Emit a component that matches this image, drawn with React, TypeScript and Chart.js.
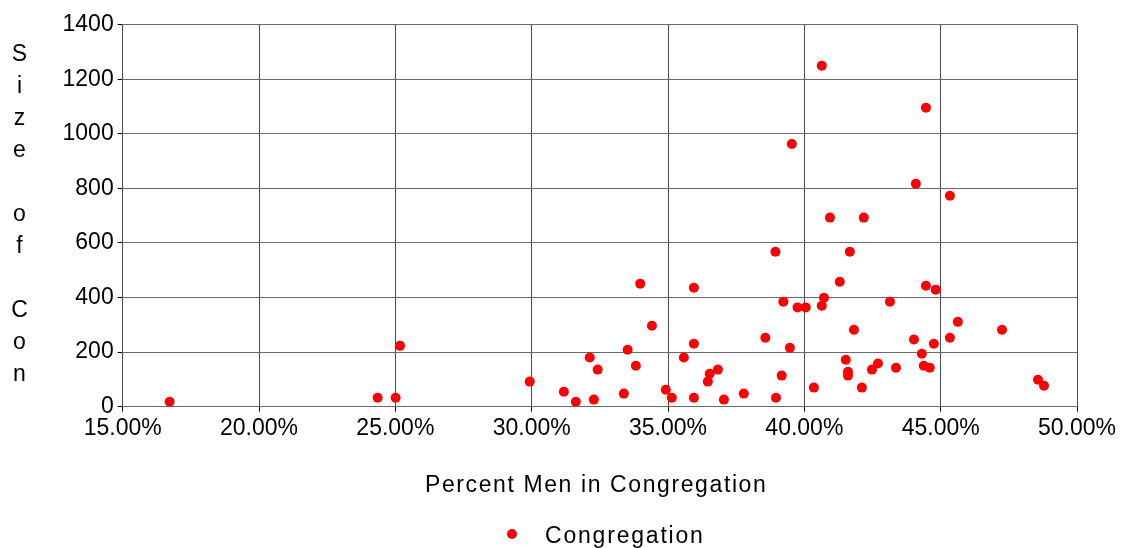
import React, { useEffect, useRef } from "react";
import { Chart, registerables } from "chart.js";

Chart.register(...registerables);

// Percent of men in each congregation (x, in %)
const percentMen: number[] = [
  16.72, 24.35, 25.01, 25.17, 29.93, 31.18, 31.62, 32.13, 32.28, 32.42,
  33.38, 33.52, 33.82, 33.98, 34.41, 34.92, 35.14, 35.58, 35.95, 35.95,
  35.95, 36.46, 36.53, 36.83, 37.05, 37.78, 38.57, 38.94, 38.96, 39.17,
  39.23, 39.47, 39.54, 39.75, 40.05, 40.35, 40.64, 40.64, 40.72, 40.94,
  41.30, 41.52, 41.60, 41.60, 41.67, 41.82, 42.11, 42.18, 42.48, 42.70,
  43.14, 43.36, 44.02, 44.09, 44.31, 44.38, 44.46, 44.46, 44.60, 44.75,
  44.82, 45.34, 45.34, 45.63, 47.25, 48.57, 48.79,
];

// Size of congregation (y)
const congregationSize: number[] = [
  18, 33, 33, 223, 92, 55, 18, 180, 26, 136,
  48, 209, 150, 451, 297, 62, 33, 180, 436, 231,
  33, 92, 121, 136, 26, 48, 253, 568, 33, 114,
  385, 216, 963, 364, 364, 70, 1250, 370, 399, 693,
  458, 172, 128, 114, 568, 282, 70, 693, 136, 158,
  385, 143, 246, 817, 194, 150, 1096, 443, 143, 231,
  429, 773, 253, 311, 282, 99, 77,
];

const seriesName = "Congregation";
const xTitle = "Percent Men in Congregation";
const yTitle = "Size of Con";
const xMin = 15;
const xMax = 50;
const xStep = 5;
const yMin = 0;
const yMax = 1400;
const yStep = 200;

const FONT = "'Liberation Sans', Arial, sans-serif";

export default function App() {
  const canvasRef = useRef<HTMLCanvasElement | null>(null);

  useEffect(() => {
    const canvas = canvasRef.current;
    if (!canvas) return;

    const textPlugin = {
      id: "customText",
      afterDraw(chart: any) {
        const ctx = chart.ctx as CanvasRenderingContext2D;
        ctx.save();
        ctx.fillStyle = "#000";
        ctx.font = `23px ${FONT}`;
        // vertical stacked y-axis title
        ctx.textAlign = "center";
        ctx.textBaseline = "middle";
        const chars = Array.from(yTitle);
        chars.forEach((ch, i) => {
          if (ch !== " ") ctx.fillText(ch, 19.5, 55 + i * 32);
        });
        // x-axis title
        (ctx as any).letterSpacing = "1.6px";
        ctx.textAlign = "left";
        ctx.textBaseline = "alphabetic";
        ctx.fillText(xTitle, 425, 491.5);
        // legend
        ctx.beginPath();
        ctx.fillStyle = "#ff0000";
        ctx.arc(512, 534, 5, 0, Math.PI * 2);
        ctx.fill();
        ctx.fillStyle = "#000";
        (ctx as any).letterSpacing = "1.8px";
        ctx.fillText(seriesName, 545, 543);
        ctx.restore();
      },
    };

    const xGridColor = "#4a4a4a";
    const yGridColor = "#6a6a6a";

    const chart = new Chart(canvas, {
      type: "scatter",
      data: {
        datasets: [
          {
            label: seriesName,
            data: percentMen.map((x, i) => ({ x, y: congregationSize[i] })),
            backgroundColor: "#ff0000",
            borderColor: "#ff0000",
            borderWidth: 0,
            pointRadius: 5,
            pointHoverRadius: 5,
          },
        ],
      },
      options: {
        responsive: false,
        animation: false,
        layout: { padding: { top: 24.7, right: 45, bottom: 0, left: 0 } },
        plugins: {
          legend: { display: false },
          tooltip: { enabled: false },
        },
        scales: {
          x: {
            type: "linear",
            min: xMin,
            max: xMax,
            afterFit(scale: any) {
              scale.height = 548 - 406.7;
            },
            ticks: {
              stepSize: xStep,
              color: "#000",
              font: { family: FONT, size: 23 },
              padding: 3,
              maxRotation: 0,
              callback: (v: any) => Number(v).toFixed(2) + "%",
            },
            grid: {
              color: xGridColor,
              lineWidth: 1,
              tickLength: 5,
              tickColor: "#000",
            },
            border: { color: yGridColor, width: 1 },
          },
          y: {
            type: "linear",
            min: yMin,
            max: yMax,
            afterFit(scale: any) {
              scale.width = 122.7;
            },
            ticks: {
              stepSize: yStep,
              color: "#000",
              font: { family: FONT, size: 23 },
              padding: 4,
              callback: (v: any) => String(v),
            },
            grid: {
              color: yGridColor,
              lineWidth: 1,
              tickLength: 5,
              tickColor: "#000",
            },
            border: { color: xGridColor, width: 1 },
          },
        },
      },
      plugins: [textPlugin],
    });

    return () => chart.destroy();
  }, []);

  return (
    <div style={{ position: "fixed", left: 0, top: 0, width: 1122, height: 548, background: "#fff" }}>
      <canvas ref={canvasRef} width={1122} height={548} />
    </div>
  );
}
